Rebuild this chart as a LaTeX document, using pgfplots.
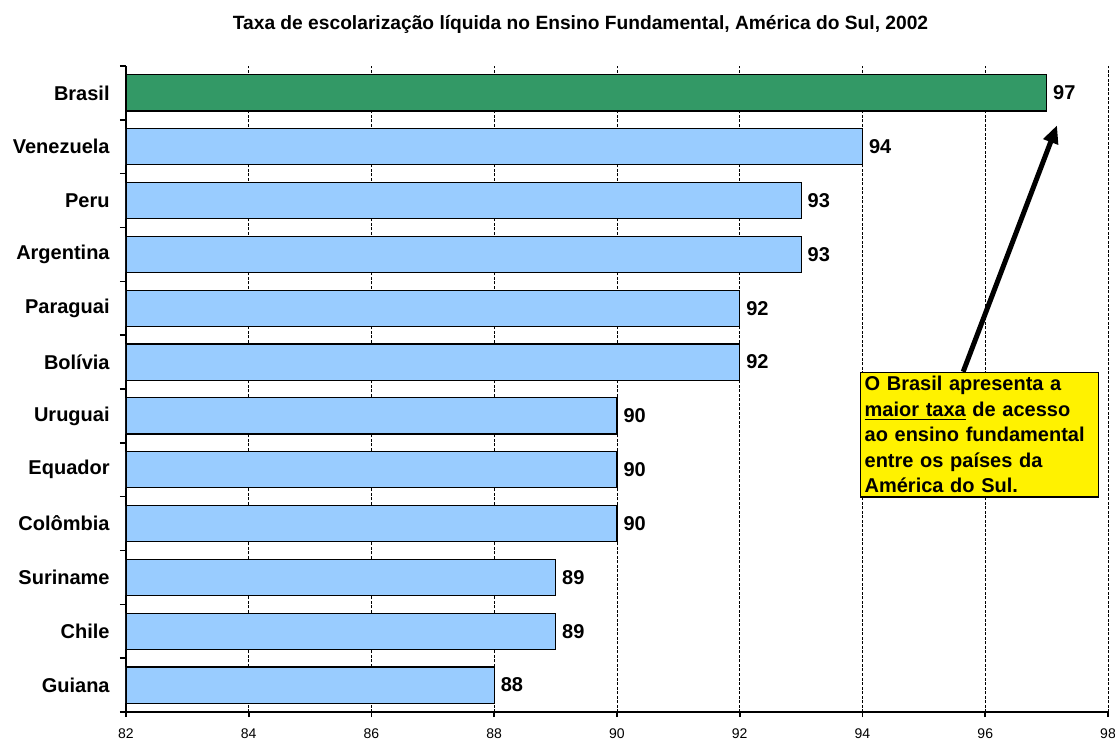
\documentclass[border=0pt]{standalone}
\usepackage{fontspec}
\setmainfont{Liberation Sans}
\usepackage{pgfplots}
\pgfplotsset{compat=1.18}
\usetikzlibrary{arrows.meta}
\definecolor{barblue}{RGB}{153,204,255}
\definecolor{bargreen}{RGB}{51,153,102}
\begin{document}
\begin{tikzpicture}
\begin{axis}[
  at={(0pt,0pt)}, anchor=south west,
  scale only axis, width=491pt, height=323pt,
  xmin=82, xmax=98, ymin=-0.5, ymax=11.5,
  xbar, bar width=0.67, bar shift=0pt,
  axis x line*=bottom, axis y line*=left,
  axis line style={line width=0.8pt, -},
  xtick={82,84,...,98},
  /pgf/number format/assume math mode=true,
  xticklabel style={font=\fontsize{7}{8}\selectfont, inner sep=0pt, anchor=north, yshift=-5.5pt},
  xmajorgrids, major x grid style={dash pattern=on 1.5pt off 0.75pt, black, line width=0.4pt},
  ytick={0,...,11},
  yticklabels={Guiana, Chile, Suriname, Colômbia, Equador, Uruguai, Bolívia, Paraguai, Argentina, Peru, Venezuela, Brasil},
  yticklabel style={font=\bfseries\fontsize{10}{12}\selectfont, inner sep=0pt, anchor=east, xshift=-5.5pt},
  minor ytick={-0.5,0.5,...,11.5},
  tick align=outside,
  major tick length=2.5pt, minor tick length=3pt,
  major y tick style={draw=none},
  tick style={black, line width=0.8pt},
  point meta=x,
  nodes near coords,
  nodes near coords style={font=\bfseries\fontsize{10}{12}\selectfont, anchor=west, inner sep=0pt, xshift=3pt},
]
\addplot[fill=barblue, draw=black, line width=0.6pt] coordinates {
(94,10) (93,9) (93,8) (92,7) (92,6) (90,5) (90,4) (90,3) (89,2) (89,1) (88,0)};
\addplot[fill=bargreen, draw=black, line width=0.6pt] coordinates {(97,11)};
\draw[line width=2.5pt, -{Triangle[length=9pt,width=7.5pt]}] (axis cs:95.64,5.82) -- (axis cs:97.17,10.40);
\node[draw=black, fill=yellow, line width=0.6pt, anchor=north west, text width=115pt, inner sep=2pt, align=left, font=\bfseries\fontsize{10}{12.75}\selectfont] at (axis cs:93.96,5.82) {O Brasil apresenta a\\ \underline{maior taxa} de acesso\\ ao ensino fundamental\\ entre os países da\\ América do Sul.};
\end{axis}
\node[font=\bfseries\fontsize{9.6}{12}\selectfont] at (227.25pt,344pt) {Taxa de escolarização líquida no Ensino Fundamental, América do Sul, 2002};
\pgfresetboundingbox
\useasboundingbox (-63pt,-14pt) rectangle (494.5pt,356pt);
\end{tikzpicture}
\end{document}
